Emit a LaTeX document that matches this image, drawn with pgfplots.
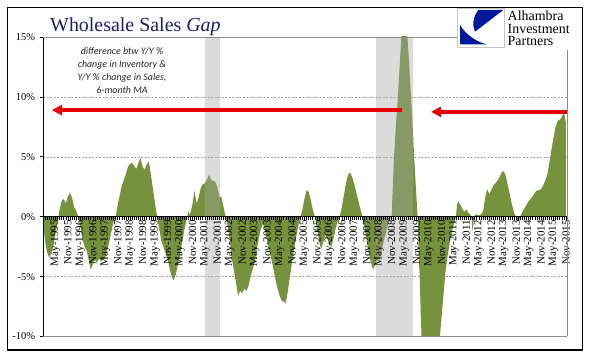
\documentclass[border=0pt]{standalone}
\usepackage{fontspec}
\setmainfont{Liberation Serif}
\newfontfamily\calibri{Carlito}
\usepackage{pgfplots}
\pgfplotsset{compat=1.18}
\usetikzlibrary{arrows.meta}
\definecolor{areagreen}{RGB}{118,146,60}
\definecolor{titleblue}{RGB}{28,28,110}
\definecolor{logoblue}{RGB}{0,22,155}
\definecolor{arrred}{RGB}{232,0,0}
\definecolor{gridgray}{RGB}{165,165,165}
\definecolor{framegray}{RGB}{140,140,140}
\definecolor{shadegray}{RGB}{165,165,165}
\begin{document}
\begin{tikzpicture}
\useasboundingbox (0,0) rectangle (596bp,358bp);
\begin{axis}[
  at={(43bp,21.5bp)}, anchor=south west,
  scale only axis, width=524bp, height=299.5bp,
  xmin=0, xmax=252.5, ymin=-10, ymax=15,
  axis on top,
  axis x line*=middle, axis y line*=left,
  x axis line style={black, line width=1.2bp},
  y axis line style={black, line width=0.9bp},
  xtick={0,6,...,252},
  minor x tick num=5,
  xtick align=outside,
  major tick length=3bp, minor tick length=3bp,
  every tick/.style={black, line width=0.6bp},
  xticklabels={Nov-1994,May-1995,Nov-1995,May-1996,Nov-1996,May-1997,Nov-1997,May-1998,Nov-1998,May-1999,Nov-1999,May-2000,Nov-2000,May-2001,Nov-2001,May-2002,Nov-2002,May-2003,Nov-2003,May-2004,Nov-2004,May-2005,Nov-2005,May-2006,Nov-2006,May-2007,Nov-2007,May-2008,Nov-2008,May-2009,Nov-2009,May-2010,Nov-2010,May-2011,Nov-2011,May-2012,Nov-2012,May-2013,Nov-2013,May-2014,Nov-2014,May-2015,Nov-2015},
  x tick label style={rotate=90, anchor=east, inner sep=0.5bp, font=\fontsize{11}{11}\selectfont},
  ytick={-10,-5,0,5,10,15},
  yticklabels={-10\%,-5\%,0\%,5\%,10\%,15\%},
  ytick align=outside,
  y tick label style={font=\fontsize{10.5}{10.5}\selectfont, xshift=-1.5bp},
]
% dashed grid lines
\draw[gridgray, dash pattern=on 2bp off 1.5bp, line width=0.5bp] (axis cs:0,10) -- (axis cs:252.5,10);
\draw[gridgray, dash pattern=on 2bp off 1.5bp, line width=0.5bp] (axis cs:0,5) -- (axis cs:252.5,5);
\draw[gridgray, dash pattern=on 2bp off 1.5bp, line width=0.5bp] (axis cs:0,-5) -- (axis cs:252.5,-5);
% wholesale sales gap
\addplot[draw=none, fill=areagreen] coordinates {
(0,0) (0.5,-1.2) (1,-2.0) (2,-3.0) (3,-3.4) (4,-3.1) (5,-2.4) (6,-1.5) (7,-0.5) (7.5,0)
(8,0.6) (9,1.3) (10,1.5) (11,1.1) (12,1.7) (13,2.0) (14,1.6) (15,0.8) (16,0.5) (17,0)
(18,-0.8) (19,-1.8) (20,-2.5) (21,-2.8) (22,-3.6) (23,-4.4) (24,-4.0) (25,-3.6) (26,-3.8) (27,-3.5) (28,-3.7) (29,-3.6) (30,-3.4) (31,-2.8) (32,-2.0) (33,-1.2) (34,-0.4) (35,0)
(36,1.0) (37,1.8) (38,2.6) (39,3.1) (40,3.6) (41,4.2) (42,4.4) (43,4.5) (44,4.2) (45,4.0) (46,4.5) (47,4.9) (48,4.2) (49,3.9) (50,4.4) (51,4.6) (52,3.5) (53,2.3) (54,1.1) (55,0)
(56,-1.0) (57,-2.0) (58,-2.5) (59,-3.0) (60,-3.5) (61,-4.3) (62,-5.0) (63,-5.3) (64,-4.8) (65,-4.0) (66,-3.2) (67,-2.2) (68,-1.2) (69,-0.4) (69.6,0)
(70,0.5) (70.5,0.2) (71,0.3) (72,1.0) (73,2.2) (74,1.1) (75,1.6) (76,2.4) (77,2.7) (78,2.8) (79,3.1) (80,3.5) (81,3.1) (82,3.0) (83,2.9) (84,2.5) (85,1.7) (86,1.6) (87,0.8) (88,0)
(89,-0.8) (90,-2.0) (91,-3.5) (92,-4.5) (93,-5.5) (94,-6.6) (95,-6.2) (96,-6.4) (97,-6.0) (98,-6.2) (99,-5.8) (100,-5.0) (101,-4.4) (102,-3.8) (103,-2.8) (104,-1.8) (105,-1.0) (106,-0.6)
(107,-1.2) (108,-2.0) (109,-2.8) (110,-3.5) (111,-4.3) (112,-5.2) (113,-6.0) (114,-6.6) (115,-7.0) (116,-7.1) (117,-7.2) (118,-6.2) (119,-5.0) (120,-3.8) (121,-2.7) (122,-1.7) (123,-0.8) (124,0)
(125,0.6) (126,1.5) (127,2.2) (128,2.1) (129,1.4) (130,0.6) (131,0)
(132,-1.0) (133,-2.0) (134,-2.7) (135,-2.2) (136,-1.5) (137,-1.8) (138,-2.4) (139,-2.5) (140,-1.8) (141,-1.0) (142,-0.4) (143,0)
(144,0.8) (145,1.8) (146,2.8) (147,3.5) (148,3.7) (149,3.3) (150,2.7) (151,2.0) (152,1.3) (153,0.6) (154,0)
(155,-1.0) (156,-2.0) (157,-3.0) (158,-3.8) (159,-4.4) (160,-4.0) (161,-3.5) (162,-3.6) (163,-3.0) (164,-2.2) (165,-1.5) (166,-0.8) (167,-0.3) (168,0)
(169,4.5) (170,7.5) (171,10) (172,13) (173,16) (174,17) (175,16.5) (176,14) (177,11) (178,8) (179,4.5) (180,1.5) (180.5,0)
(181,-3) (181.5,-5) (182,-8) (182.5,-10.5) (184,-12.5) (186,-13) (188,-13) (190,-12) (191,-10.5) (192,-8.5) (193,-6.5) (194,-4.5) (195,-3.2) (196,-2.2) (197,-1.3) (198,-0.6) (199,0)
(199.5,1.0) (200,1.3) (201,1.0) (202,0.7) (203,0.4) (204,0.6) (205,0.3) (206,0.2) (206.5,-0.2) (207,-1.2) (207.5,-0.4) (208,0.1) (209,0.2) (210,0.1) (211,0.2) (212,0.4)
(213,1.5) (214,2.3) (215,1.9) (216,2.2) (217,2.6) (218,2.8) (219,3.0) (220,3.3) (221,3.7) (222,3.8) (223,3.4) (224,2.6) (225,1.8) (226,1.0) (227,0.3) (228,0)
(228.5,-0.4) (229.5,-0.3) (230,0)
(231,0.4) (232,0.7) (233,1.0) (234,1.3) (235,1.5) (236,1.7) (237,2.0) (238,2.2) (239,2.2) (240,2.3) (241,2.6) (242,3.0) (243,3.5) (244,4.5) (245,5.6) (246,6.6) (247,7.5) (248,8.0) (249,8.1) (250,8.3) (251,8.8) (252,7.8) (252,0)
};
% recession shading
\addplot[draw=none, fill=shadegray, fill opacity=0.4] coordinates {(78.1,-10) (78.1,15) (85.3,15) (85.3,-10)};
\addplot[draw=none, fill=shadegray, fill opacity=0.4] coordinates {(160.5,-10) (160.5,15) (178.3,15) (178.3,-10)};
% arrows
\draw[arrred, line width=3.5bp, -{Triangle[length=10bp,width=10bp]}] (axis cs:173,8.9) -- (axis cs:4.3,8.9);
\draw[arrred, line width=3.5bp, -{Triangle[length=10bp,width=10bp]}] (axis cs:252.3,8.75) -- (axis cs:187,8.75);
\end{axis}
% plot frame lines
\draw[framegray, line width=0.7bp] (43bp,321bp) -- (457bp,321bp);
\draw[framegray, line width=0.7bp] (43bp,21.5bp) -- (567bp,21.5bp);
\draw[framegray, line width=0.7bp] (567bp,21.5bp) -- (567bp,308bp);
% outer border
\draw[black, line width=1.2bp] (7.5bp,8bp) rectangle (582.5bp,350.5bp);
% title
\node[anchor=base west, inner sep=0, text=titleblue, font=\fontsize{20}{20}\selectfont] at (50bp,326bp) {Wholesale Sales \textit{Gap}};
% annotation
\node[align=center, inner sep=0, text={rgb,255:red,38;green,38;blue,38}, font=\calibri\itshape\fontsize{10}{13}\selectfont] at (122bp,287.5bp) {difference btw Y/Y \%\\change in Inventory \&\\Y/Y \% change in Sales,\\6-month MA};
% logo
\draw[gray!45, fill=white, line width=0.6bp] (457bp,311bp) rectangle (504bp,350bp);
\fill[logoblue] (478.3bp,348bp) -- (503.3bp,348bp) -- (475bp,326.3bp) .. controls (471.7bp,333bp) and (473.3bp,341.3bp) .. (478.3bp,348bp) -- cycle;
\fill[logoblue] (460bp,313.7bp) -- (486.7bp,313.7bp) .. controls (475bp,316.3bp) and (465bp,324.7bp) .. (460bp,333bp) -- cycle;
\node[anchor=north west, inner sep=0, align=left, font=\fontsize{14}{12.3}\selectfont] at (507.5bp,347bp) {Alhambra\\Investment\\Partners};
\end{tikzpicture}
\end{document}
